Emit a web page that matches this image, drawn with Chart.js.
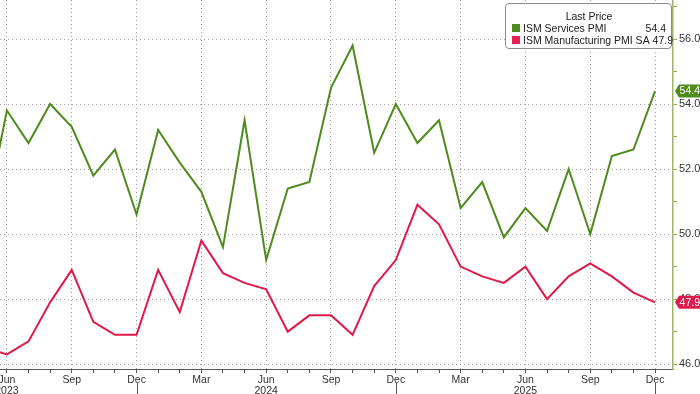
<!DOCTYPE html>
<html>
<head>
<meta charset="utf-8">
<script src="https://cdn.jsdelivr.net/npm/chart.js@4"></script>
<style>
  html, body { margin: 0; padding: 0; background: #fff; }
  #wrap { position: relative; width: 700px; height: 394px; }
  #lg {
    position: absolute; left: 505px; top: 3px; width: 167px; height: 46px;
    box-sizing: border-box; border: 1px solid #8a8a8a; border-radius: 4px; background: #fff;
    font: 10.5px "Liberation Sans", sans-serif; color: #222; padding: 6px 5px 0 6px;
    white-space: nowrap;
  }
  #lg .t { text-align: center; line-height: 12px; }
  #lg .r { display: flex; align-items: center; line-height: 12px; }
  #lg .sq { width: 8px; height: 8px; margin-right: 3px; flex: none; }
  #lg .n { flex: 1; }
</style>
</head>
<body>
<div id="wrap">
  <canvas id="c" width="700" height="394"></canvas>
  <div id="lg">
    <div class="t">Last Price</div>
    <div class="r"><div class="sq" style="background:#4f8a1c"></div><div class="n">ISM Services PMI</div><div>54.4</div></div>
    <div class="r"><div class="sq" style="background:#e8214d"></div><div class="n">ISM Manufacturing PMI SA</div><div>&nbsp;47.9</div></div>
  </div>
</div>
<script>
// monthly, May 2023 .. Dec 2025
const months = ['May','Jun','Jul','Aug','Sep','Oct','Nov','Dec',
  'Jan','Feb','Mar','Apr','May','Jun','Jul','Aug','Sep','Oct','Nov','Dec',
  'Jan','Feb','Mar','Apr','May','Jun','Jul','Aug','Sep','Oct','Nov','Dec'];
const years = [2023,2023,2023,2023,2023,2023,2023,2023,
  2024,2024,2024,2024,2024,2024,2024,2024,2024,2024,2024,2024,
  2025,2025,2025,2025,2025,2025,2025,2025,2025,2025,2025,2025];

const services = [50.5, 53.8, 52.8, 54.0, 53.3, 51.8, 52.6, 50.6,
  53.2, 52.2, 51.3, 49.6, 53.5, 49.2, 51.4, 51.6, 54.5, 55.8, 52.5, 54.0,
  52.8, 53.5, 50.8, 51.6, 49.9, 50.8, 50.1, 52.0, 50.0, 52.4, 52.6, 54.4];
const manufacturing = [46.5, 46.3, 46.7, 47.9, 48.9, 47.3, 46.9, 46.9,
  48.9, 47.6, 49.8, 48.8, 48.5, 48.3, 47.0, 47.5, 47.5, 46.9, 48.4, 49.2,
  50.9, 50.3, 49.0, 48.7, 48.5, 49.0, 48.0, 48.7, 49.1, 48.7, 48.2, 47.9];

const yTicks = [46, 47, 48, 49, 50, 51, 52, 53, 54, 55, 56, 57];
const qMonths = ['Mar', 'Jun', 'Sep', 'Dec'];

const GREEN = '#4f8a1c', RED = '#e0194b';
const FONT = '"Liberation Sans", sans-serif';

const pts = arr => arr.map((v, i) => ({ x: i, y: v }));

// last-value tags + year separators under the axis
const extras = {
  id: 'extras',
  afterDraw(ch) {
    const { ctx } = ch, xs = ch.scales.x, ys = ch.scales.y;
    ctx.save();
    ctx.strokeStyle = '#555'; ctx.lineWidth = 1;
    months.forEach((m, i) => {
      if (m !== 'Dec') return;
      const px = Math.round(xs.getPixelForValue(i)) + 0.5;
      if (px < ch.chartArea.left || px > ch.chartArea.right) return;
      ctx.beginPath(); ctx.moveTo(px, 383); ctx.lineTo(px, 394); ctx.stroke();
    });
    [[services, GREEN], [manufacturing, RED]].forEach(([arr, col]) => {
      const v = arr[arr.length - 1];
      const py = ys.getPixelForValue(v);
      const x0 = ch.chartArea.right + 2;
      ctx.fillStyle = col;
      ctx.beginPath();
      ctx.moveTo(x0, py);
      ctx.lineTo(x0 + 4, py - 6.5);
      ctx.lineTo(700, py - 6.5);
      ctx.lineTo(700, py + 6.5);
      ctx.lineTo(x0 + 4, py + 6.5);
      ctx.closePath();
      ctx.fill();
      ctx.fillStyle = '#fff';
      ctx.font = '10.5px ' + FONT;
      ctx.textAlign = 'right'; ctx.textBaseline = 'middle';
      ctx.fillText(v.toFixed(1), 700, py + 0.5);
    });
    ctx.restore();
  }
};

new Chart(document.getElementById('c'), {
  type: 'line',
  data: {
    datasets: [
      { label: 'ISM Services PMI', data: pts(services), borderColor: GREEN, borderWidth: 2, pointRadius: 0, tension: 0 },
      { label: 'ISM Manufacturing PMI SA', data: pts(manufacturing), borderColor: RED, borderWidth: 2, pointRadius: 0, tension: 0 },
    ]
  },
  options: {
    responsive: false,
    animation: false,
    layout: { padding: 0 },
    plugins: { legend: { display: false }, tooltip: { enabled: false } },
    scales: {
      x: {
        type: 'linear', min: 0.68, max: 31.83,
        afterBuildTicks: ax => { ax.ticks = months.map((m, i) => ({ value: i })).slice(1); },
        afterFit: ax => { ax.height = 25; ax.paddingLeft = 0; ax.paddingRight = 0; },
        ticks: {
          autoSkip: false, maxRotation: 0, padding: 1, color: '#333',
          font: { family: 'Liberation Sans', size: 10.5, lineHeight: 1.1 },
          callback: v => {
            const m = months[v];
            if (!qMonths.includes(m)) return '';
            return m === 'Jun' ? [m, String(years[v])] : m;
          }
        },
        grid: {
          color: c => (c.tick && qMonths.includes(months[c.tick.value])) ? '#a0a0a0' : 'rgba(0,0,0,0)',
          tickColor: '#555', tickLength: 4, drawTicks: true
        },
        border: { display: true, color: '#555', dash: [1, 3] }
      },
      y: {
        position: 'right', min: 45.85, max: 57.2,
        afterBuildTicks: ax => { ax.ticks = yTicks.map(v => ({ value: v })); },
        afterFit: ax => { ax.width = 27; ax.paddingTop = 0; ax.paddingBottom = 0; },
        ticks: {
          padding: 2, color: '#333',
          font: { family: 'Liberation Sans', size: 11 },
          callback: v => v % 2 === 0 ? v.toFixed(1) : ''
        },
        grid: {
          color: c => (c.tick && c.tick.value % 2 === 0) ? '#a0a0a0' : 'rgba(0,0,0,0)',
          tickColor: '#8fa85a', tickLength: 4
        },
        border: { display: true, color: '#9db56a', width: 1.5, dash: [1, 3] }
      }
    }
  },
  plugins: [extras]
});
</script>
</body>
</html>
